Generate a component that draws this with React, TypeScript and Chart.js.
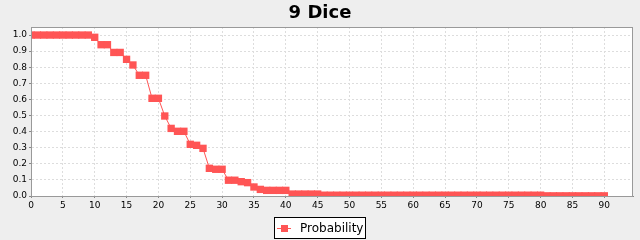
import React, { useEffect, useRef } from "react";
import { Chart, registerables } from "chart.js";

Chart.register(...registerables);

const chartTitle = "9 Dice";
const seriesName = "Probability";

// Probability for each total 0..90 (index = x value)
const probabilities: number[] = [
  1.0, 1.0, 1.0, 1.0, 1.0, 1.0, 1.0, 1.0, 1.0, 1.0,
  0.986, 0.94, 0.94, 0.892, 0.892, 0.849, 0.814, 0.75, 0.75, 0.607,
  0.607, 0.497, 0.42, 0.402, 0.402, 0.321, 0.315, 0.296, 0.172, 0.166,
  0.166, 0.098, 0.098, 0.089, 0.083, 0.056, 0.041, 0.035, 0.035, 0.035,
  0.035, 0.012, 0.012, 0.012, 0.012, 0.012, 0.005, 0.005, 0.005, 0.005,
  0.005, 0.005, 0.005, 0.005, 0.005, 0.005, 0.005, 0.005, 0.005, 0.005,
  0.005, 0.005, 0.005, 0.005, 0.005, 0.005, 0.005, 0.005, 0.005, 0.005,
  0.005, 0.005, 0.005, 0.005, 0.005, 0.005, 0.005, 0.005, 0.005, 0.005,
  0.005, 0.001, 0.001, 0.001, 0.001, 0.001, 0.001, 0.001, 0.001, 0.001,
  0.001,
];

const xTicks: number[] = [0, 5, 10, 15, 20, 25, 30, 35, 40, 45, 50, 55, 60, 65, 70, 75, 80, 85, 90];
const yTicks: number[] = [0, 0.1, 0.2, 0.3, 0.4, 0.5, 0.6, 0.7, 0.8, 0.9, 1.0];
const xMax = 94.5;
const yMax = 1.05;

const RED = "#FF5555";
const FONT = "'DejaVu Sans', sans-serif";

export default function App() {
  const ref = useRef<HTMLCanvasElement | null>(null);

  useEffect(() => {
    document.body.style.margin = "0";
    const canvas = ref.current;
    if (!canvas) return;

    const bgPlugin = {
      id: "jfreeBg",
      beforeDraw(chart: any) {
        const { ctx, chartArea } = chart;
        ctx.save();
        ctx.fillStyle = "#EEEEEE";
        ctx.fillRect(0, 0, chart.width, chart.height);
        ctx.fillStyle = "#FFFFFF";
        ctx.fillRect(chartArea.left, chartArea.top, chartArea.right - chartArea.left, chartArea.bottom - chartArea.top);
        ctx.restore();
      },
      afterDraw(chart: any) {
        const { ctx, chartArea } = chart;
        ctx.save();
        // plot outline
        ctx.strokeStyle = "#999999";
        ctx.lineWidth = 1;
        ctx.strokeRect(chartArea.left + 0.5, chartArea.top + 0.5, chartArea.right - chartArea.left - 1, chartArea.bottom - chartArea.top);
        // title
        ctx.fillStyle = "#000000";
        ctx.font = `bold 18px ${FONT}`;
        ctx.textAlign = "center";
        ctx.textBaseline = "middle";
        ctx.fillText(chartTitle, 320, 13);
        // legend
        ctx.fillStyle = "#FFFFFF";
        ctx.fillRect(274.5, 217.5, 91, 21);
        ctx.strokeStyle = "#000000";
        ctx.strokeRect(274.5, 217.5, 91, 21);
        ctx.strokeStyle = RED;
        ctx.beginPath();
        ctx.moveTo(277, 228.5);
        ctx.lineTo(291, 228.5);
        ctx.stroke();
        ctx.fillStyle = RED;
        ctx.fillRect(281, 225, 7, 7);
        ctx.fillStyle = "#000000";
        ctx.font = `12px ${FONT}`;
        ctx.textAlign = "left";
        ctx.textBaseline = "middle";
        ctx.fillText(seriesName, 300, 228.5);
        ctx.restore();
      },
    };

    const chart = new Chart(canvas, {
      type: "line",
      data: {
        datasets: [
          {
            label: seriesName,
            data: probabilities.map((v, i) => ({ x: i, y: v })),
            borderColor: RED,
            backgroundColor: RED,
            borderWidth: 1,
            pointStyle: "rect",
            pointRadius: 5.2,
            pointBackgroundColor: RED,
            pointBorderWidth: 0,
            tension: 0,
            clip: 0,
          } as any,
        ],
      },
      options: {
        animation: false,
        responsive: false,
        maintainAspectRatio: false,
        layout: { padding: { left: 0, top: 27, right: 7, bottom: 0 } },
        plugins: {
          legend: { display: false },
          title: { display: false },
          tooltip: { enabled: false },
        },
        scales: {
          x: {
            type: "linear",
            min: 0,
            max: xMax,
            afterBuildTicks: (scale: any) => {
              scale.ticks = xTicks.map((v) => ({ value: v }));
            },
            afterFit: (scale: any) => {
              scale.height = 44;
            },
            ticks: {
              font: { family: FONT, size: 9 },
              color: "#000000",
              padding: 2,
              maxRotation: 0,
              autoSkip: false,
              callback: (v: any) => String(v),
            },
            grid: {
              color: "#DDDDDD",
              lineWidth: 1,
              drawTicks: true,
              tickLength: 2,
              tickColor: "#888888",
              tickBorderDash: [],
            } as any,
            border: { display: true, color: "#888888", width: 1, dash: [2, 2] },
          },
          y: {
            type: "linear",
            min: 0,
            max: yMax,
            afterBuildTicks: (scale: any) => {
              scale.ticks = yTicks.map((v) => ({ value: v }));
            },
            afterFit: (scale: any) => {
              scale.width = 31;
            },
            ticks: {
              font: { family: FONT, size: 9 },
              color: "#000000",
              padding: 2,
              autoSkip: false,
              callback: (v: any) => Number(v).toFixed(1),
            },
            grid: {
              color: "#DDDDDD",
              lineWidth: 1,
              drawTicks: true,
              tickLength: 2,
              tickColor: "#888888",
              tickBorderDash: [],
            } as any,
            border: { display: true, color: "#888888", width: 1, dash: [2, 2] },
          },
        },
      },
      plugins: [bgPlugin],
    });

    return () => chart.destroy();
  }, []);

  return (
    <div style={{ position: "absolute", left: 0, top: 0, width: 640, height: 240 }}>
      <canvas ref={ref} width={640} height={240} style={{ width: 640, height: 240, display: "block" }} />
    </div>
  );
}
